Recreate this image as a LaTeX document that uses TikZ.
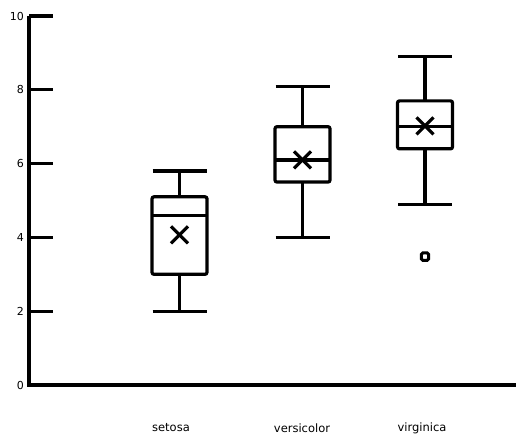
\documentclass[tikz,border=0pt]{standalone}
\usepackage{fontspec}
\setmainfont{DejaVu Sans}
\begin{document}
\begin{tikzpicture}[x=1pt,y=-1pt,
  axis/.style={line width=3.2pt},
  boxline/.style={line width=3.2pt},
  meanx/.style={line width=3.2pt},
  lbl/.style={font=\fontsize{11.5}{13}\selectfont, inner sep=0pt},
  ticklbl/.style={font=\fontsize{11}{12}\selectfont, inner sep=0pt, anchor=east}]
\useasboundingbox (0,0) rectangle (516,437);
\def\yv#1{385-36.9*#1}
% axes
\draw[axis] (29,16) -- (29,385) -- (516,385);
\foreach \v in {2,4,6,8,10}{
  \draw[axis] (29,{\yv{\v}}) -- (53,{\yv{\v}});
}
\foreach \v in {0,2,4,6,8,10}{
  \node[ticklbl] (t\v) at (24,{\yv{\v}}) {\v};
}
% box plot macro: center, min, q1, med, q3, max, mean
\newcommand\bxplot[7]{%
  \draw[boxline] (#1-27,{\yv{#6}}) -- (#1+27,{\yv{#6}});
  \draw[boxline] (#1-27,{\yv{#2}}) -- (#1+27,{\yv{#2}});
  \draw[boxline] (#1,{\yv{#6}}) -- (#1,{\yv{#5}});
  \draw[boxline] (#1,{\yv{#2}}) -- (#1,{\yv{#3}});
  \draw[boxline, rounded corners=2pt] (#1-27.5,{\yv{#3}}) rectangle (#1+27.5,{\yv{#5}});
  \draw[boxline] (#1-27.5,{\yv{#4}}) -- (#1+27.5,{\yv{#4}});
  \draw[meanx] (#1-8.5,{\yv{#7}-8.5}) -- (#1+8.5,{\yv{#7}+8.5});
  \draw[meanx] (#1-8.5,{\yv{#7}+8.5}) -- (#1+8.5,{\yv{#7}-8.5});
}
\bxplot{179.5}{2}{3}{4.6}{5.1}{5.8}{4.07}
\bxplot{302.5}{4}{5.5}{6.1}{7}{8.1}{6.1}
\bxplot{425}{4.9}{6.4}{7}{7.7}{8.9}{7.02}
% outlier
\draw[line width=3pt, rounded corners=1.5pt] (421.3,{\yv{3.48}-3.7}) rectangle (428.7,{\yv{3.48}+3.7});
% category labels
\node[lbl] (c1) at (171,428) {setosa};
\node[lbl] (c2) at (302,428) {versicolor};
\node[lbl] (c3) at (422,428) {virginica};
\end{tikzpicture}
\end{document}
